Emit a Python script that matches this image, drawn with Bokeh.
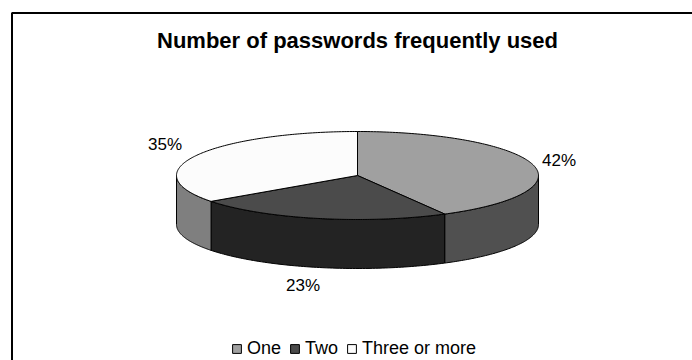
import numpy as np
from bokeh.plotting import figure
from bokeh.models import Range1d, ColumnDataSource, Legend, LegendItem
from bokeh.core.properties import value
from bokeh.embed import file_html
from bokeh.resources import INLINE

# ---- data ----
categories = ["One", "Two", "Three or more"]
shares = [42, 23, 35]
labels = ["42%", "23%", "35%"]
title = "Number of passwords frequently used"

top_colors = ["#a0a0a0", "#4b4b4b", "#fcfcfc"]
side_colors = ["#505050", "#232323", "#7f7f7f"]

# label nudges (layout only)
label_dx = [0, -9, -7]
label_dy = [0, 3, -4]

W, H = 692, 360
p = figure(width=W, height=H, output_backend="svg", toolbar_location=None,
           x_range=Range1d(0, W), y_range=Range1d(H, 0),
           min_border=0, outline_line_color=None)
p.axis.visible = False
p.grid.visible = False
p.background_fill_color = "white"

# frame (top and left edges visible, rest lies outside the window)
p.line([11.5, 11.5, 700], [370, 12.5, 12.5], line_color="black", line_width=2)

cx, cy, rx, ry, depth = 357.0, 175.0, 181.0, 44.0, 49.0

def ex(t):
    return cx + rx * np.sin(t)

def ey(t):
    return cy - ry * np.cos(t)

total = float(sum(shares))
bounds = np.concatenate([[0.0], np.cumsum(shares) / total * 2 * np.pi])

# sides (front half: angles between pi/2 and 3pi/2)
for i in range(len(shares)):
    a0, a1 = max(bounds[i], np.pi / 2), min(bounds[i + 1], 3 * np.pi / 2)
    if a1 <= a0:
        continue
    t = np.linspace(a0, a1, 80)
    xs = np.concatenate([ex(t), ex(t[::-1])])
    ys = np.concatenate([ey(t), ey(t[::-1]) + depth])
    p.patch(xs, ys, fill_color=side_colors[i], line_color="black", line_width=1)

# tops
xs_list, ys_list = [], []
for i in range(len(shares)):
    t = np.linspace(bounds[i], bounds[i + 1], 150)
    xs_list.append(list(np.concatenate([[cx], ex(t)])))
    ys_list.append(list(np.concatenate([[cy], ey(t)])))
src = ColumnDataSource(dict(xs=xs_list, ys=ys_list, color=top_colors, cat=categories))
tops = p.patches("xs", "ys", source=src, fill_color="color", line_color="black", line_width=1)

# labels
mids = (bounds[:-1] + bounds[1:]) / 2
lx = cx + 1.15 * rx * np.sin(mids) + np.array(label_dx)
ly = cy - 1.35 * ry * np.cos(mids) + np.where(np.cos(mids) < 0, depth, 0) + np.array(label_dy)
p.text(lx, ly, text=labels, text_align="center", text_baseline="middle",
       text_font=value("Liberation Sans"), text_font_size="17px", text_color="black")

# title
p.text([cx], [40], text=[title], text_align="center", text_baseline="middle",
       text_font=value("Liberation Sans"), text_font_size="22px",
       text_font_style="bold", text_color="black")

# legend
items = [LegendItem(label=c, renderers=[tops], index=i) for i, c in enumerate(categories)]
legend = Legend(items=items, orientation="horizontal", location=(231, 1),
                label_text_font="Liberation Sans", label_text_font_size="18px",
                label_text_color="black",
                glyph_width=11, glyph_height=11, label_standoff=5, spacing=8,
                padding=0, margin=0, border_line_color=None, background_fill_alpha=0,
                label_height=18)
p.add_layout(legend)

open("out.html", "w").write(file_html(p, INLINE))
